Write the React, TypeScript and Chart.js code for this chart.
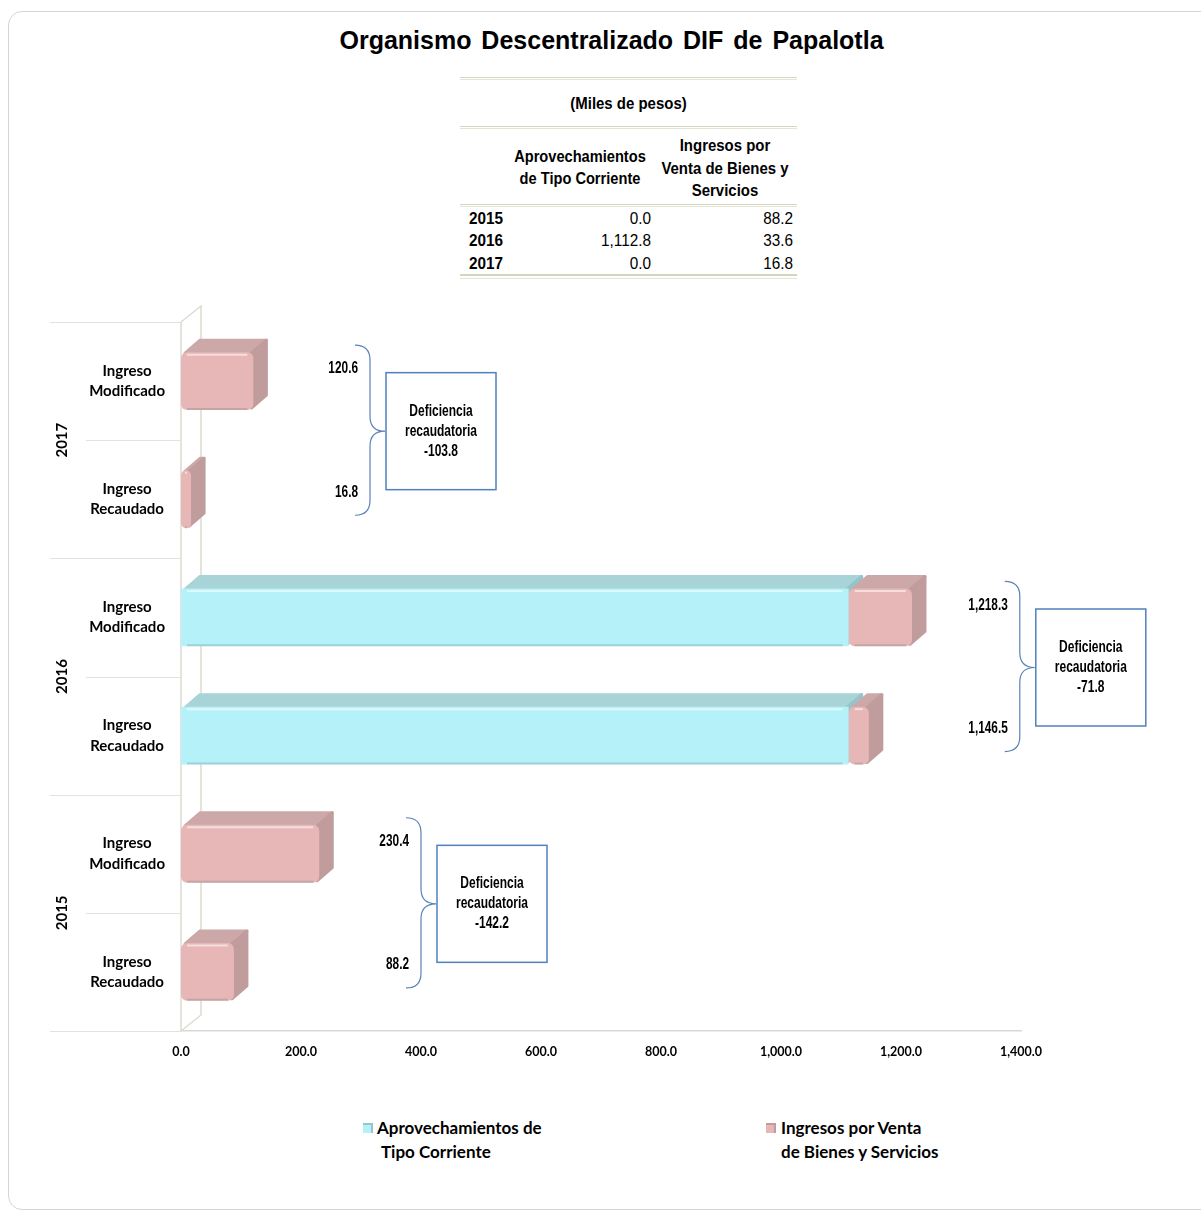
import React, { useEffect, useRef } from 'react';
import { Chart, registerables } from 'chart.js';

Chart.register(...registerables);

// ---------- data ----------
const chartTitle = 'Organismo Descentralizado DIF de Papalotla';
const unitsLabel = '(Miles de pesos)';

const years = ['2017', '2016', '2015'];
const categoryLabels = [
  ['Ingreso', 'Modificado'],
  ['Ingreso', 'Recaudado'],
  ['Ingreso', 'Modificado'],
  ['Ingreso', 'Recaudado'],
  ['Ingreso', 'Modificado'],
  ['Ingreso', 'Recaudado'],
];
const aprovechamientos = [0, 0, 1112.8, 1112.8, 0, 0];
const ingresosVenta = [120.6, 16.8, 105.5, 33.6, 230.4, 88.2];

const modificadoTotals = ['120.6', '1,218.3', '230.4'];
const recaudadoTotals = ['16.8', '1,146.5', '88.2'];
const deficiencias = ['-103.8', '-71.8', '-142.2'];

const xTicksMin = 0;
const xTicksMax = 1400;
const xTickStep = 200;

const tableYears = ['2015', '2016', '2017'];
const tableAprovechamientos = ['0.0', '1,112.8', '0.0'];
const tableVentas = ['88.2', '33.6', '16.8'];
const tableHeader1 = ['Aprovechamientos', 'de Tipo Corriente'];
const tableHeader2 = ['Ingresos por', 'Venta de Bienes y', 'Servicios'];

const seriesNames = ['Aprovechamientos de Tipo Corriente', 'Ingresos por Venta de Bienes y Servicios'];
const legendLines = [
  ['Aprovechamientos de', 'Tipo Corriente'],
  ['Ingresos por Venta', 'de Bienes y Servicios'],
];

// ---------- styles ----------
const FONT_UI = 'Lato, "Open Sans", sans-serif';
const FONT_ARIAL = '"Liberation Sans", Arial, sans-serif';

const BLUE_FRONT = 'rgb(181,241,248)';
const BLUE_TOP = 'rgb(168,212,215)';
const BLUE_SIDE = 'rgb(150,196,200)';
const PINK_FRONT = 'rgb(231,182,182)';
const PINK_TOP = 'rgb(204,168,168)';
const PINK_SIDE = 'rgb(192,156,156)';
const WALL = '#dcdcd0';
const SEP = '#e2e2e2';
const ANNOT_BLUE = '#5a82b8';

const DEPTH_DX = 15;
const DEPTH_DY = 13;
const WALL_DX = 20;
const WALL_DY = 16;

// brace stem position in axis units, one per year group
const braceStemAxis = [315, 1398, 400];

const fmt = (v: number) =>
  Number(v).toLocaleString('en-US', { minimumFractionDigits: 1, maximumFractionDigits: 1 });

const frontColors = [BLUE_FRONT, PINK_FRONT];
const topColors = [BLUE_TOP, PINK_TOP];
const sideColors = [BLUE_SIDE, PINK_SIDE];

function narrowText(ctx: CanvasRenderingContext2D, text: string, x: number, y: number, align: CanvasTextAlign, sx: number) {
  ctx.save();
  ctx.translate(x, y);
  ctx.scale(sx, 1);
  ctx.textAlign = align;
  ctx.textBaseline = 'middle';
  ctx.fillText(text, 0, 0);
  ctx.restore();
}

const depthPlugin = {
  id: 'depth3d',
  beforeDatasetsDraw(chart: any) {
    const ctx = chart.ctx;
    const { left, top, bottom } = chart.chartArea;
    const yScale = chart.scales.y;
    ctx.save();

    // separators in label area
    ctx.strokeStyle = SEP;
    ctx.lineWidth = 1.2;
    for (let i = 0; i <= categoryLabels.length; i++) {
      const y = Math.round(yScale.getPixelForValue(i - 0.5)) + 0.5;
      const x0 = i % 2 === 0 ? 50 : 86;
      ctx.beginPath();
      ctx.moveTo(x0, y);
      ctx.lineTo(left, y);
      ctx.stroke();
    }

    // back wall
    ctx.strokeStyle = WALL;
    ctx.lineWidth = 1.5;
    ctx.beginPath();
    ctx.moveTo(left, bottom);
    ctx.lineTo(left, top);
    ctx.lineTo(left + WALL_DX, top - WALL_DY);
    ctx.lineTo(left + WALL_DX, bottom - WALL_DY);
    ctx.lineTo(left, bottom);
    ctx.stroke();

    // year labels
    ctx.fillStyle = '#000';
    ctx.font = `bold 15px ${FONT_UI}`;
    ctx.textAlign = 'center';
    ctx.textBaseline = 'middle';
    years.forEach((yr, g) => {
      const yc = (yScale.getPixelForValue(2 * g) + yScale.getPixelForValue(2 * g + 1)) / 2;
      ctx.save();
      ctx.translate(62, yc);
      ctx.rotate(-Math.PI / 2);
      ctx.fillText(yr, 0, 0);
      ctx.restore();
    });

    // 3D depth faces
    chart.data.datasets.forEach((_ds: any, d: number) => {
      const meta = chart.getDatasetMeta(d);
      meta.data.forEach((el: any) => {
        const p = el.getProps(['x', 'y', 'base', 'height'], true);
        const l = Math.min(p.x, p.base);
        const r = Math.max(p.x, p.base);
        if (r - l < 1) return;
        const t = p.y - p.height / 2;
        const b = p.y + p.height / 2;
        ctx.lineJoin = 'round';
        ctx.lineWidth = 3;
        // top face
        ctx.fillStyle = topColors[d];
        ctx.strokeStyle = topColors[d];
        ctx.beginPath();
        ctx.moveTo(l + 4, t + 1);
        ctx.lineTo(l + 4 + DEPTH_DX, t - DEPTH_DY + 1);
        ctx.lineTo(r + DEPTH_DX - 2, t - DEPTH_DY + 1);
        ctx.lineTo(r - 2, t + 1);
        ctx.closePath();
        ctx.fill();
        ctx.stroke();
        // side face
        ctx.fillStyle = sideColors[d];
        ctx.strokeStyle = sideColors[d];
        ctx.beginPath();
        ctx.moveTo(r - 2, t + 1);
        ctx.lineTo(r + DEPTH_DX - 2, t - DEPTH_DY + 1);
        ctx.lineTo(r + DEPTH_DX - 2, b - DEPTH_DY - 2);
        ctx.lineTo(r - 2, b - 2);
        ctx.closePath();
        ctx.fill();
        ctx.stroke();
      });
    });
    ctx.restore();
  },
  afterDatasetsDraw(chart: any) {
    const ctx = chart.ctx;
    ctx.save();
    chart.data.datasets.forEach((_ds: any, d: number) => {
      const meta = chart.getDatasetMeta(d);
      meta.data.forEach((el: any) => {
        const p = el.getProps(['x', 'y', 'base', 'height'], true);
        const l = Math.min(p.x, p.base);
        const r = Math.max(p.x, p.base);
        if (r - l < 8) return;
        const t = p.y - p.height / 2;
        const b = p.y + p.height / 2;
        ctx.strokeStyle = 'rgba(255,255,255,0.55)';
        ctx.lineWidth = 2;
        ctx.beginPath();
        ctx.moveTo(l + 6, t + 2.5);
        ctx.lineTo(r - 6, t + 2.5);
        ctx.stroke();
        ctx.strokeStyle = 'rgba(90,110,110,0.25)';
        ctx.beginPath();
        ctx.moveTo(l + 6, b - 1);
        ctx.lineTo(r - 6, b - 1);
        ctx.stroke();
      });
    });
    ctx.restore();
  },
};

const annotationPlugin = {
  id: 'deficiencias',
  afterDraw(chart: any) {
    const ctx = chart.ctx;
    const xScale = chart.scales.x;
    const yScale = chart.scales.y;
    ctx.save();
    years.forEach((_yr, g) => {
      const c1 = yScale.getPixelForValue(2 * g);
      const c2 = yScale.getPixelForValue(2 * g + 1);
      const stem = xScale.getPixelForValue(braceStemAxis[g]);
      const top = c1 - 36;
      const bot = c2 + 16;
      const tip = (c1 + c2) / 2 - 9;
      const w = 15;
      // brace
      ctx.strokeStyle = ANNOT_BLUE;
      ctx.lineWidth = 1.2;
      ctx.beginPath();
      ctx.moveTo(stem - w, top);
      ctx.quadraticCurveTo(stem, top, stem, top + w);
      ctx.lineTo(stem, tip - w);
      ctx.quadraticCurveTo(stem, tip, stem + w, tip);
      ctx.quadraticCurveTo(stem, tip, stem, tip + w);
      ctx.lineTo(stem, bot - w);
      ctx.quadraticCurveTo(stem, bot, stem - w, bot);
      ctx.stroke();
      // values
      ctx.fillStyle = '#000';
      ctx.font = `bold 16px ${FONT_ARIAL}`;
      narrowText(ctx, modificadoTotals[g], stem - 12, c1 - 12, 'right', 0.74);
      narrowText(ctx, recaudadoTotals[g], stem - 12, c2 - 7, 'right', 0.74);
      // box
      const bx = stem + w + 1;
      const bw = 110;
      const bh = 117;
      const by = tip - bh / 2;
      ctx.strokeStyle = '#4f81bd';
      ctx.lineWidth = 1.5;
      ctx.strokeRect(bx, by, bw, bh);
      narrowText(ctx, 'Deficiencia', bx + bw / 2, tip - 20, 'center', 0.75);
      narrowText(ctx, 'recaudatoria', bx + bw / 2, tip, 'center', 0.75);
      narrowText(ctx, deficiencias[g], bx + bw / 2, tip + 20, 'center', 0.75);
    });
    ctx.restore();
  },
};

const CANVAS_TOP = 290;
const CANVAS_W = 1201;
const CANVAS_H = 810;

function ChartCanvas() {
  const ref = useRef<HTMLCanvasElement | null>(null);
  useEffect(() => {
    if (!ref.current) return;
    const chart = new Chart(ref.current, {
      type: 'bar',
      data: {
        labels: categoryLabels as any,
        datasets: [
          {
            label: seriesNames[0],
            data: aprovechamientos,
            backgroundColor: frontColors[0],
            borderWidth: 0,
            borderRadius: 6,
            borderSkipped: false,
          },
          {
            label: seriesNames[1],
            data: ingresosVenta,
            backgroundColor: frontColors[1],
            borderWidth: 0,
            borderRadius: 6,
            borderSkipped: false,
          },
        ],
      },
      options: {
        indexAxis: 'y',
        responsive: false,
        animation: false,
        layout: { padding: { left: 0, right: CANVAS_W - 1021, top: 32, bottom: 0 } },
        plugins: { legend: { display: false }, tooltip: { enabled: false }, title: { display: false } },
        datasets: { bar: { categoryPercentage: 1, barPercentage: 0.49 } },
        scales: {
          x: {
            stacked: true,
            min: xTicksMin,
            max: xTicksMax,
            ticks: {
              stepSize: xTickStep,
              callback: (v: any) => fmt(v),
              color: '#000',
              font: { family: FONT_UI, size: 12.5, weight: 'bold' },
              padding: 13,
              maxRotation: 0,
            },
            grid: { display: false, drawTicks: false },
            border: { display: true, color: '#d9d9d2', width: 1.5 },
            afterFit: (s: any) => {
              s.height = CANVAS_H - (1031 - CANVAS_TOP);
            },
          },
          y: {
            stacked: true,
            ticks: {
              crossAlign: 'center',
              padding: 16,
              color: '#000',
              font: { family: FONT_UI, size: 15, weight: 'bold', lineHeight: 1.35 },
            },
            grid: { display: false, drawTicks: false },
            border: { display: false },
            afterFit: (s: any) => {
              s.width = 181;
              s.paddingTop = 0;
              s.paddingBottom = 0;
            },
          },
        },
      } as any,
      plugins: [depthPlugin, annotationPlugin],
    });
    return () => chart.destroy();
  }, []);
  return (
    <canvas
      ref={ref}
      width={CANVAS_W}
      height={CANVAS_H}
      style={{ position: 'absolute', left: 0, top: CANVAS_TOP, width: CANVAS_W, height: CANVAS_H }}
    />
  );
}

const abs = (o: React.CSSProperties): React.CSSProperties => ({ position: 'absolute', ...o });

function DoubleLine({ top, thick }: { top: number; thick?: boolean }) {
  return (
    <div
      style={abs({
        left: 460,
        top,
        width: 337,
        height: thick ? 2 : 1,
        borderTop: `${thick ? 2 : 1}px solid #d6d6bf`,
        borderBottom: '1px solid #e4e4d4',
      })}
    />
  );
}

type NProps = { text: string; left: number; width: number; top: number; align: 'left' | 'right' | 'center'; bold?: boolean; sx: number };
function NText({ text, left, width, top, align, bold, sx }: NProps) {
  return (
    <div
      style={abs({
        left,
        width,
        top,
        textAlign: align,
        fontFamily: FONT_ARIAL,
        fontSize: 17,
        lineHeight: '22px',
        fontWeight: bold ? 'bold' : 'normal',
        color: '#000',
        whiteSpace: 'nowrap',
        transform: `scaleX(${sx})`,
        transformOrigin: align === 'center' ? '50% 50%' : align === 'right' ? '100% 50%' : '0% 50%',
      })}
    >
      {text}
    </div>
  );
}

function DataTable() {
  const rowTops = [208, 230, 253];
  return (
    <>
      <DoubleLine top={77} />
      <NText text={unitsLabel} left={460} width={337} top={93} align="center" bold sx={0.88} />
      <DoubleLine top={126} />
      {tableHeader1.map((t, i) => (
        <NText key={t} text={t} left={500} width={160} top={146 + 22 * i} align="center" bold sx={0.86} />
      ))}
      {tableHeader2.map((t, i) => (
        <NText key={t} text={t} left={645} width={160} top={135 + 22.5 * i} align="center" bold sx={0.88} />
      ))}
      <DoubleLine top={204} />
      {tableYears.map((yr, i) => (
        <React.Fragment key={yr}>
          <NText text={yr} left={469} width={60} top={rowTops[i]} align="left" bold sx={0.9} />
          <NText text={tableAprovechamientos[i]} left={551} width={100} top={rowTops[i]} align="right" sx={0.9} />
          <NText text={tableVentas[i]} left={693} width={100} top={rowTops[i]} align="right" sx={0.9} />
        </React.Fragment>
      ))}
      <DoubleLine top={274} thick />
    </>
  );
}

function Legend() {
  const lf: React.CSSProperties = { fontFamily: FONT_UI, fontWeight: 'bold', fontSize: 17, lineHeight: '24px', color: '#000', whiteSpace: 'nowrap' };
  const marker = (left: number, front: string, edge: string) => (
    <div
      style={abs({
        left,
        top: 1123,
        width: 8,
        height: 8,
        background: front,
        borderRight: `2px solid ${edge}`,
        borderTop: `2px solid ${edge}`,
      })}
    />
  );
  return (
    <>
      {marker(363, BLUE_FRONT, BLUE_SIDE)}
      <div style={abs({ ...lf, left: 377, top: 1116 })}>{legendLines[0][0]}</div>
      <div style={abs({ ...lf, left: 381, top: 1140 })}>{legendLines[0][1]}</div>
      {marker(766, PINK_FRONT, PINK_SIDE)}
      <div style={abs({ ...lf, left: 781, top: 1116 })}>{legendLines[1][0]}</div>
      <div style={abs({ ...lf, left: 781, top: 1140 })}>{legendLines[1][1]}</div>
    </>
  );
}

export default function App() {
  return (
    <div style={{ position: 'relative', width: 1201, height: 1215, overflow: 'hidden', background: '#fff' }}>
      <style>{`html,body{margin:0;padding:0;overflow:hidden;background:#fff}`}</style>
      <div
        style={abs({
          left: 8,
          top: 11,
          width: 1210,
          height: 1199,
          border: '1px solid #d7d5ce',
          borderRadius: 14,
          boxSizing: 'border-box',
        })}
      />
      <div
        style={abs({
          left: 0,
          width: 1223,
          top: 22,
          textAlign: 'center',
          fontFamily: FONT_ARIAL,
          fontWeight: 'bold',
          fontSize: 25,
          lineHeight: '36px',
          wordSpacing: 3,
          color: '#000',
          whiteSpace: 'nowrap',
        })}
      >
        {chartTitle}
      </div>
      <DataTable />
      <ChartCanvas />
      <Legend />
    </div>
  );
}
